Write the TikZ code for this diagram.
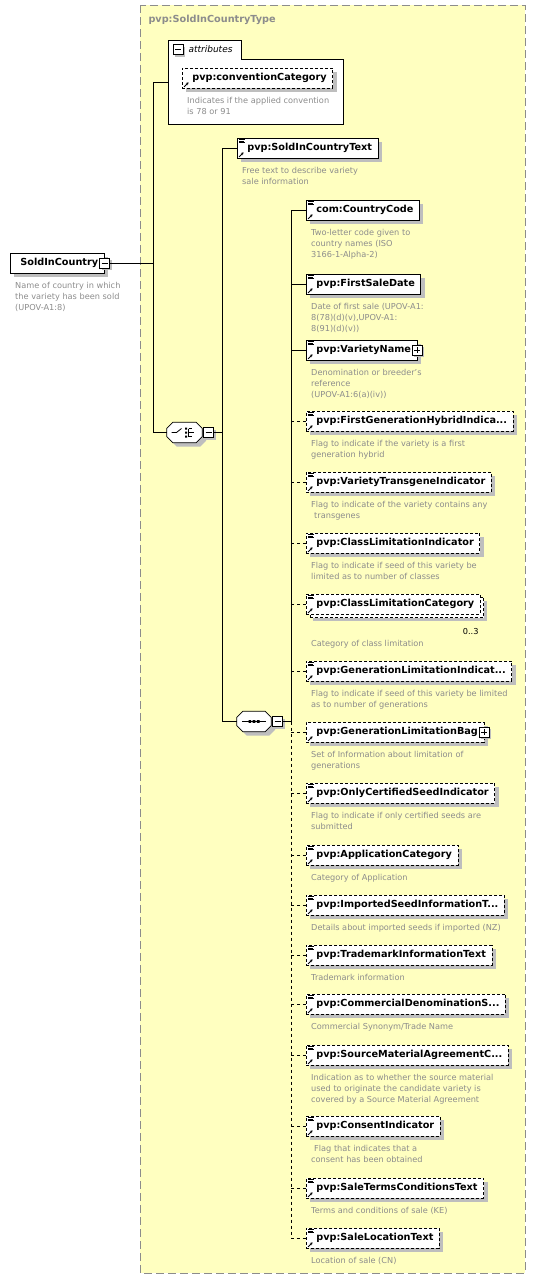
\documentclass[tikz,border=0pt]{standalone}
\usepackage{fontspec}
\setmainfont{DejaVu Sans}
\usetikzlibrary{arrows.meta,positioning,shadows}
\definecolor{SchemaYellow}{HTML}{FFFFC0}
\definecolor{SchemaGray}{HTML}{8C8C8C}
\definecolor{ShadowGray}{HTML}{BEBEBE}

\newcommand{\refarrow}[1]{%
  \draw[-{Stealth[length=2.5pt,width=3pt]},line width=0.9pt] ([shift={(2pt,1.5pt)}]#1.south west) -- ++(4.5pt,4.5pt);}
\newcommand{\elicons}[1]{%
  \draw[line width=0.6pt] ([shift={(2pt,-1.5pt)}]#1.north west) -- ++(6pt,0pt)
    ([shift={(2pt,-3.3pt)}]#1.north west) -- ++(5pt,0pt)
    ([shift={(2pt,-5.1pt)}]#1.north west) -- ++(6pt,0pt);
  \refarrow{#1}}
\newcommand{\octagon}[1]{%
  \draw[fill=white, line width=0.8pt, drop shadow={shadow xshift=4pt, shadow yshift=-4pt, fill=ShadowGray, opacity=1}]
    ([xshift=6pt]#1.north west) -- ([xshift=-6pt]#1.north east) -- ([yshift=-6pt]#1.north east)
    -- ([yshift=6pt]#1.south east) -- ([xshift=-6pt]#1.south east) -- ([xshift=6pt]#1.south west)
    -- ([yshift=6pt]#1.south west) -- ([yshift=-6pt]#1.north west) -- cycle;}

\begin{document}
\begin{tikzpicture}[x=1pt, y=-1pt,
    every node/.style={font=\fontsize{9.7}{12}\selectfont\bfseries},
    elem/.style={draw, fill=white, anchor=west, line width=0.8pt, minimum height=20pt, inner sep=0pt,
      execute at begin node=\hspace*{10pt}, execute at end node=\hspace*{6pt},
      drop shadow={shadow xshift=4pt, shadow yshift=-4pt, fill=ShadowGray, opacity=1}},
    optelem/.style={elem, dash pattern=on 3pt off 2pt},
    multi/.style={preaction={fill=ShadowGray, transform canvas={shift={(7pt,-7pt)}}},
      preaction={draw, fill=white, dash pattern=on 3pt off 2pt, transform canvas={shift={(3.5pt,-3.5pt)}}}},
    desc/.style={inner sep=0pt, align=left, text=SchemaGray, font=\fontsize{8.2}{11}\selectfont},
    minusbox/.style={draw, fill=white, line width=0.8pt, minimum size=10pt, inner sep=0pt,
      drop shadow={shadow xshift=2pt, shadow yshift=-2pt, fill=ShadowGray, opacity=1},
      path picture={\draw[line width=0.8pt] ([xshift=2pt]path picture bounding box.west) -- ([xshift=-2pt]path picture bounding box.east);}},
    plusbox/.style={draw, fill=white, line width=0.8pt, minimum size=10pt, inner sep=0pt,
      drop shadow={shadow xshift=2pt, shadow yshift=-2pt, fill=ShadowGray, opacity=1},
      path picture={\draw[line width=0.8pt] ([xshift=2pt]path picture bounding box.west) -- ([xshift=-2pt]path picture bounding box.east)
        ([yshift=-2pt]path picture bounding box.north) -- ([yshift=2pt]path picture bounding box.south);}},
    groupbox/.style={minimum width=35pt, minimum height=20pt, inner sep=0pt},
    conn/.style={line width=0.8pt},
    optconn/.style={line width=0.8pt, dash pattern=on 3pt off 3pt}]
  \useasboundingbox (0,0) rectangle (536,1282);

  % complex type frame
  \draw[SchemaGray, line width=1pt, dash pattern=on 8pt off 4pt, fill=SchemaYellow] (140,5) rectangle (525,1273);
  \node[anchor=west, text=SchemaGray] (typename) at (145,20) {pvp:SoldInCountryType};

  % bus lines
  \coordinate (b1) at (153,0);
  \coordinate (b2) at (222,0);
  \coordinate (b3) at (291,0);

  % root element
  \node[elem] (sic) at (10,263) {SoldInCountry};
  \node[minusbox] (sicm) at (sic.east) {};
  \node[desc, below right=9pt and 5pt of sic.south west] (sicd) {Name of country in which\\the variety has been sold\\(UPOV-A1:8)};

  % attributes
  \draw[fill=white, line width=0.8pt] (168,124) -- (168,40) -- (241,40) -- (241,59) -- (343,59) -- (343,124) -- cycle;
  \node[minusbox] (attrm) at (178,49.5) {};
  \node[anchor=west, font=\fontsize{9}{11}\selectfont\itshape] (attrlabel) at (185,49.5) {attributes};
  \node[optelem] (conv) at (182,78) {pvp:conventionCategory};
  \refarrow{conv}
  \node[desc, below right=9pt and 5pt of conv.south west] (convd) {Indicates if the applied convention\\is 78 or 91};
  \coordinate (attrin) at (168,82);

  % choice
  \node[groupbox] (ch) at (184.5,432.5) {};
  \octagon{ch}
  \node[minusbox, right=1pt of ch] (chm) {};
  \draw[line width=0.8pt] ([xshift=-13pt]ch.center) -- ([xshift=-8pt]ch.center) -- ([shift={(-3pt,4pt)}]ch.center);
  \fill ([shift={(0.5pt,5pt)}]ch.center) rectangle ++(2pt,-2pt)
    ([shift={(0.5pt,1pt)}]ch.center) rectangle ++(2pt,-2pt)
    ([shift={(0.5pt,-3pt)}]ch.center) rectangle ++(2pt,-2pt);
  \draw[line width=0.8pt] ([shift={(4pt,4pt)}]ch.center) -- ([shift={(4pt,-4pt)}]ch.center)
    ([shift={(4pt,4pt)}]ch.center) -- ++(3pt,0pt)
    ([shift={(4pt,0pt)}]ch.center) -- ++(5pt,0pt)
    ([shift={(4pt,-4pt)}]ch.center) -- ++(3pt,0pt);

  \node[elem] (sict) at (237,148) {pvp:SoldInCountryText};
  \elicons{sict}
  \node[desc, below right=9pt and 5pt of sict.south west] (sictd) {Free text to describe variety\\sale information};

  % sequence
  \node[groupbox, minimum width=34pt] (seq) at (254,721.5) {};
  \octagon{seq}
  \node[minusbox, right=1pt of seq] (seqm) {};
  \draw[line width=0.8pt] ([xshift=-12pt]seq.center) -- ([xshift=12pt]seq.center);
  \fill ([shift={(-5.5pt,1.3pt)}]seq.center) rectangle ++(2.6pt,-2.6pt)
    ([shift={(-1.3pt,1.3pt)}]seq.center) rectangle ++(2.6pt,-2.6pt)
    ([shift={(2.9pt,1.3pt)}]seq.center) rectangle ++(2.6pt,-2.6pt);

  % sequence members
  \node[elem] (cc) at (306,210) {com:CountryCode};
  \elicons{cc}
  \node[desc, below right=9pt and 5pt of cc.south west] (ccd) {Two-letter code given to\\country names (ISO\\3166-1-Alpha-2)};

  \node[elem] (fsd) at (306,284) {pvp:FirstSaleDate};
  \elicons{fsd}
  \node[desc, below right=9pt and 5pt of fsd.south west] (fsdd) {Date of first sale (UPOV-A1:\\8(78)(d)(v),UPOV-A1:\\8(91)(d)(v))};

  \node[elem] (vn) at (306,350) {pvp:VarietyName};
  \elicons{vn}
  \node[plusbox] (vnp) at (vn.east) {};
  \node[desc, below right=9pt and 5pt of vn.south west] (vnd) {Denomination or breeder's\\reference\\(UPOV-A1:6(a)(iv))};

  \node[optelem] (fgh) at (306,421) {pvp:FirstGenerationHybridIndica...};
  \elicons{fgh}
  \node[desc, below right=9pt and 5pt of fgh.south west] (fghd) {Flag to indicate if the variety is a first\\generation hybrid};

  \node[optelem] (vti) at (306,482) {pvp:VarietyTransgeneIndicator};
  \elicons{vti}
  \node[desc, below right=9pt and 5pt of vti.south west] (vtid) {Flag to indicate of the variety contains any\\\hspace*{3pt}transgenes};

  \node[optelem] (cli) at (306,543) {pvp:ClassLimitationIndicator};
  \elicons{cli}
  \node[desc, below right=9pt and 5pt of cli.south west] (clid) {Flag to indicate if seed of this variety be\\limited as to number of classes};

  \node[optelem, multi] (clc) at (306,604) {pvp:ClassLimitationCategory};
  \elicons{clc}
  \node[desc, text=black, below left=14pt and 2pt of clc.south east] (clcocc) {0..3};
  \node[desc, below right=26pt and 5pt of clc.south west] (clcd) {Category of class limitation};

  \node[optelem] (gli) at (306,671) {pvp:GenerationLimitationIndicat...};
  \elicons{gli}
  \node[desc, below right=9pt and 5pt of gli.south west] (glid) {Flag to indicate if seed of this variety be limited\\as to number of generations};

  \node[optelem] (glb) at (306,732) {pvp:GenerationLimitationBag};
  \refarrow{glb}
  \node[plusbox] (glbp) at (glb.east) {};
  \node[desc, below right=9pt and 5pt of glb.south west] (glbd) {Set of Information about limitation of\\generations};

  \node[optelem] (ocs) at (306,793) {pvp:OnlyCertifiedSeedIndicator};
  \elicons{ocs}
  \node[desc, below right=9pt and 5pt of ocs.south west] (ocsd) {Flag to indicate if only certified seeds are\\submitted};

  \node[optelem] (apc) at (306,855) {pvp:ApplicationCategory};
  \elicons{apc}
  \node[desc, below right=9pt and 5pt of apc.south west] (apcd) {Category of Application};

  \node[optelem] (isi) at (306,905) {pvp:ImportedSeedInformationT...};
  \elicons{isi}
  \node[desc, below right=9pt and 5pt of isi.south west] (isid) {Details about imported seeds if imported (NZ)};

  \node[optelem] (tmi) at (306,955) {pvp:TrademarkInformationText};
  \elicons{tmi}
  \node[desc, below right=9pt and 5pt of tmi.south west] (tmid) {Trademark information};

  \node[optelem] (cds) at (306,1004) {pvp:CommercialDenominationS...};
  \elicons{cds}
  \node[desc, below right=9pt and 5pt of cds.south west] (cdsd) {Commercial Synonym/Trade Name};

  \node[optelem] (sma) at (306,1055) {pvp:SourceMaterialAgreementC...};
  \elicons{sma}
  \node[desc, below right=9pt and 5pt of sma.south west] (smad) {Indication as to whether the source material\\used to originate the candidate variety is\\covered by a Source Material Agreement};

  \node[optelem] (coi) at (306,1126) {pvp:ConsentIndicator};
  \elicons{coi}
  \node[desc, below right=9pt and 5pt of coi.south west] (coid) {\hspace*{3pt}Flag that indicates that a\\consent has been obtained};

  \node[optelem] (stc) at (306,1188) {pvp:SaleTermsConditionsText};
  \elicons{stc}
  \node[desc, below right=9pt and 5pt of stc.south west] (stcd) {Terms and conditions of sale (KE)};

  \node[optelem] (slt) at (306,1238) {pvp:SaleLocationText};
  \elicons{slt}
  \node[desc, below right=9pt and 5pt of slt.south west] (sltd) {Location of sale (CN)};

  % connectors
  \draw[conn] (sicm.east) -- (sicm.east -| b1);
  \draw[conn] (attrin) -| (b1 |- ch.west) -- (ch.west);
  \draw[conn] (chm.east) -- (chm.east -| b2);
  \draw[conn] (sict.west) -| (b2 |- seq.west) -- (seq.west);
  \draw[conn] (seqm.east) -- (seqm.east -| b3);
  \draw[conn] (cc.west) -| (b3 |- seq.west);
  \draw[conn] (fsd.west) -- (fsd.west -| b3);
  \draw[conn] (vn.west) -- (vn.west -| b3);
  \draw[optconn] (b3 |- seq.west) |- (slt.west);
  \draw[optconn] (fgh.west) -- (fgh.west -| b3);
  \draw[optconn] (vti.west) -- (vti.west -| b3);
  \draw[optconn] (cli.west) -- (cli.west -| b3);
  \draw[optconn] (clc.west) -- (clc.west -| b3);
  \draw[optconn] (gli.west) -- (gli.west -| b3);
  \draw[optconn] (glb.west) -- (glb.west -| b3);
  \draw[optconn] (ocs.west) -- (ocs.west -| b3);
  \draw[optconn] (apc.west) -- (apc.west -| b3);
  \draw[optconn] (isi.west) -- (isi.west -| b3);
  \draw[optconn] (tmi.west) -- (tmi.west -| b3);
  \draw[optconn] (cds.west) -- (cds.west -| b3);
  \draw[optconn] (sma.west) -- (sma.west -| b3);
  \draw[optconn] (coi.west) -- (coi.west -| b3);
  \draw[optconn] (stc.west) -- (stc.west -| b3);
\end{tikzpicture}
\end{document}
